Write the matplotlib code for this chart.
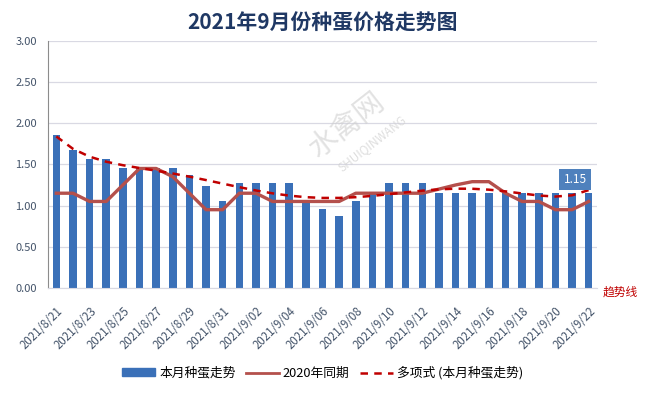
import numpy as np
import matplotlib.pyplot as plt
from matplotlib.lines import Line2D
from matplotlib.patches import Patch

plt.rcParams['font.family'] = ['Noto Sans CJK SC', 'DejaVu Sans']

# daily dates 2021/8/21 .. 2021/9/22
dates = ["2021/8/%d" % d for d in range(21, 32)] + ["2021/9/%02d" % d for d in range(1, 23)]

# this month's hatching-egg price
this_month = [1.86, 1.67, 1.56, 1.56, 1.46, 1.46, 1.46, 1.46, 1.37, 1.24, 1.06,
              1.27, 1.27, 1.27, 1.27, 1.05, 0.96, 0.87, 1.06, 1.17, 1.27, 1.27,
              1.27, 1.15, 1.15, 1.15, 1.15, 1.15, 1.15, 1.15, 1.15, 1.15, 1.15]

# same period of 2020
last_year = [1.15, 1.15, 1.05, 1.05, 1.25, 1.45, 1.45, 1.35, 1.15, 0.95, 0.95,
             1.15, 1.15, 1.05, 1.05, 1.05, 1.05, 1.05, 1.15, 1.15, 1.15, 1.15,
             1.15, 1.20, 1.25, 1.29, 1.29, 1.15, 1.05, 1.05, 0.95, 0.95, 1.05]

x = np.arange(len(dates))

# polynomial trendline of this month's prices (as Excel does it)
coef = np.polyfit(x, this_month, 6)
trend = np.polyval(coef, x)

fig = plt.figure(figsize=(6.45, 3.94), dpi=100)
ax = fig.add_axes([0.0744, 0.269, 0.8512, 0.6277])

ax.bar(x, this_month, width=0.45, color='#3A70B8', zorder=2)
ax.plot(x, last_year, color='#B4504C', lw=2.4, zorder=3, solid_joinstyle='round')
ax.plot(x, trend, color='#C00000', lw=1.8, ls=(0, (3, 2.5)), zorder=4)

ax.set_xlim(-0.5, len(dates) - 0.5)
ax.set_ylim(0, 3)
ax.set_yticks(np.arange(0, 3.01, 0.5))
ax.set_yticklabels(["%.2f" % v for v in np.arange(0, 3.01, 0.5)])
ax.yaxis.grid(True, color='#D9D9E3', lw=0.9, zorder=0)
ax.set_axisbelow(True)

ax.set_xticks(x[::2])
ax.set_xticklabels(dates[::2], rotation=45, ha='right', rotation_mode='anchor')
ax.tick_params(axis='x', length=0, pad=12, labelsize=8.3, labelcolor='#44546A')
ax.tick_params(axis='y', length=0, pad=8, labelsize=8, labelcolor='#44546A')

for s in ['top', 'right']:
    ax.spines[s].set_visible(False)
ax.spines['left'].set_color('#8C8C8C')
ax.spines['bottom'].set_color('#D9D9E3')

# data label on the last bar
ax.text(x[-1] - 0.12, 1.32, "%.2f" % this_month[-1], ha='right', va='center',
        color='white', fontsize=8.5,
        bbox=dict(boxstyle='square,pad=0.35', fc='#4F81BD', ec='none'), zorder=5)

# watermark
fig.text(0.54, 0.68, "水禽网", fontsize=21, color='#CFCFCF', rotation=38,
         ha='center', va='center', alpha=0.6)
fig.text(0.577, 0.635, "SHUIQINWANG", fontsize=8.5, color='#D0D0D0', rotation=38,
         ha='center', va='center', alpha=0.7)

fig.text(0.5, 0.94, "2021年9月份种蛋价格走势图", ha='center', va='center',
         fontsize=15, fontweight='bold', color='#1F3864')
fig.text(0.962, 0.258, "趋势线", ha='center', va='center', fontsize=8.5, color='#C00000')

handles = [Patch(color='#3A70B8'),
           Line2D([], [], color='#B4504C', lw=2),
           Line2D([], [], color='#C00000', lw=1.8, ls=(0, (3, 2.5)))]
labels = ["本月种蛋走势", "2020年同期", "多项式 (本月种蛋走势)"]
fig.legend(handles, labels, loc='center', bbox_to_anchor=(0.5, 0.053), ncol=3,
           frameon=False, fontsize=9.2, handlelength=2.6, handleheight=0.6,
           columnspacing=0.8, handletextpad=0.3)

fig.savefig("out.png", dpi=100, facecolor='white')
